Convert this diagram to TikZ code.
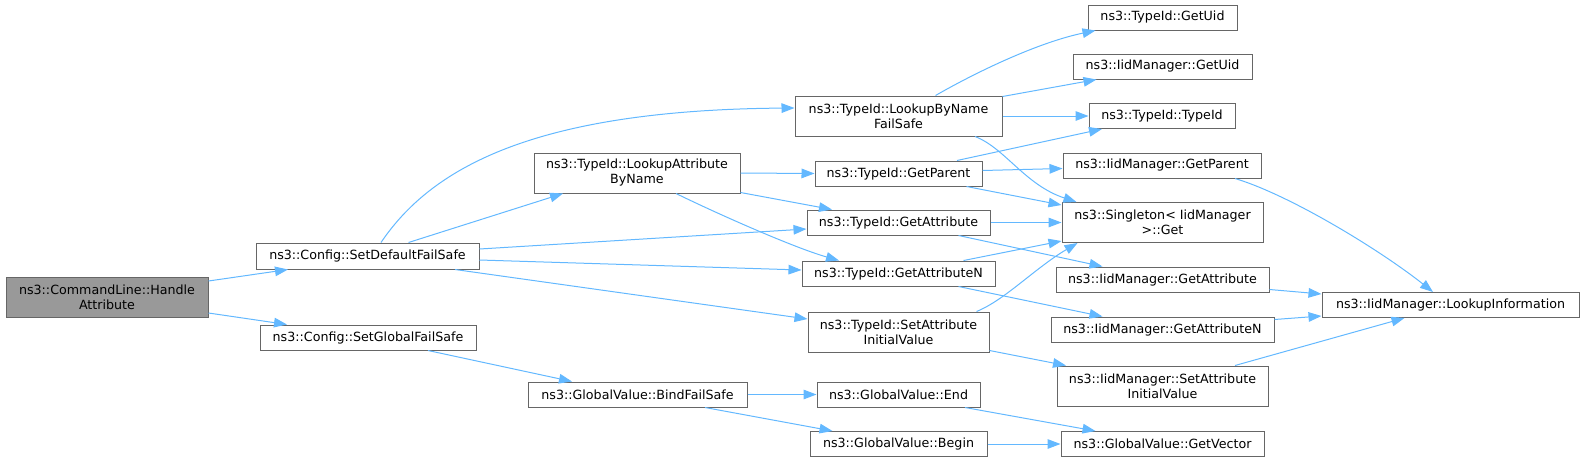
\documentclass[tikz,border=0pt]{standalone}
\usepackage{fontspec}
\setmainfont{DejaVu Sans}
\usetikzlibrary{arrows.meta,calc}
\definecolor{edgeblue}{HTML}{63B8FF}
\definecolor{boxline}{HTML}{666666}
\definecolor{boxgray}{HTML}{999999}
\tikzset{
  fn/.style={draw=boxline, fill=white, line width=0.75pt, inner sep=0pt, align=center,
    font=\fontsize{9.5}{11.25}\selectfont},
  cur/.style={fn, fill=boxgray},
  wh/.style 2 args={minimum width=#1*0.75pt, minimum height=#2*0.75pt},
  edge/.style={draw=edgeblue, line width=0.75pt,
    -{Triangle[length=9.75pt, width=7.2pt, fill=edgeblue]}}
}
\begin{document}
\begin{tikzpicture}[x=0.75pt,y=-0.75pt]
\useasboundingbox (0,0) rectangle (1584,461);
% column 1
\node[cur, wh={202}{40}] (ha) at (107,297) {ns3::CommandLine::Handle\\Attribute};
% column 2
\node[fn, wh={223}{26}] (sdf) at (367.5,256) {ns3::Config::SetDefaultFailSafe};
\node[fn, wh={216}{25}] (sgf) at (368,337.5) {ns3::Config::SetGlobalFailSafe};
% column 3
\node[fn, wh={206}{40}] (labn) at (637,173) {ns3::TypeId::LookupAttribute\\ByName};
\node[fn, wh={219}{25}] (bfs) at (637.5,394.5) {ns3::GlobalValue::BindFailSafe};
% column 4
\node[fn, wh={207}{40}] (lbn) at (898.5,116) {ns3::TypeId::LookupByName\\FailSafe};
\node[fn, wh={167}{25}] (tgp) at (898.5,173.5) {ns3::TypeId::GetParent};
\node[fn, wh={183}{25}] (tga) at (898.5,222.5) {ns3::TypeId::GetAttribute};
\node[fn, wh={193}{25}] (tgan) at (898.5,273.5) {ns3::TypeId::GetAttributeN};
\node[fn, wh={181}{40}] (tsaiv) at (898.5,332) {ns3::TypeId::SetAttribute\\InitialValue};
\node[fn, wh={163}{25}] (gve) at (898.5,394.5) {ns3::GlobalValue::End};
\node[fn, wh={177}{25}] (gvb) at (898.5,444) {ns3::GlobalValue::Begin};
% column 5
\node[fn, wh={149}{25}] (tgu) at (1162.5,17.5) {ns3::TypeId::GetUid};
\node[fn, wh={179}{25}] (igu) at (1162.5,66.5) {ns3::IidManager::GetUid};
\node[fn, wh={146}{25}] (tti) at (1162,116) {ns3::TypeId::TypeId};
\node[fn, wh={198}{25}] (igp) at (1162,165.5) {ns3::IidManager::GetParent};
\node[fn, wh={201}{40}] (sing) at (1162.5,222.5) {ns3::Singleton< IidManager\\ >::Get};
\node[fn, wh={213}{25}] (iga) at (1162.5,279.5) {ns3::IidManager::GetAttribute};
\node[fn, wh={223}{25}] (igan) at (1162.5,329.5) {ns3::IidManager::GetAttributeN};
\node[fn, wh={211}{40}] (isaiv) at (1162.5,386) {ns3::IidManager::SetAttribute\\InitialValue};
\node[fn, wh={203}{25}] (gvv) at (1162.5,444) {ns3::GlobalValue::GetVector};
% column 6
\node[fn, wh={257}{25}] (li) at (1450.5,305) {ns3::IidManager::LookupInformation};

% edges
\draw[edge] ($(ha.east)+(0,-16)$) -- ($(sdf.south)+(-79.5,0)$);
\draw[edge] ($(ha.east)+(0,16)$) -- ($(sgf.north)+(-81,0)$);
\draw[edge] ($(sdf.north)+(13.5,0)$) .. controls (430,170) and (530,110) .. ($(lbn.west)+(0,-8)$);
\draw[edge] ($(sdf.north)+(41,0)$) -- ($(labn.south)+(-74,0)$);
\draw[edge] ($(sdf.east)+(0,-7)$) -- ($(tga.west)+(0,6.5)$);
\draw[edge] ($(sdf.east)+(0,4)$) -- ($(tgan.west)+(0,-3.5)$);
\draw[edge] ($(sdf.south)+(87.5,0)$) -- ($(tsaiv.west)+(0,-13)$);
\draw[edge] ($(sgf.south)+(60,0)$) -- ($(bfs.north)+(-65.5,0)$);
\draw[edge] (labn.east) -- (tgp.west);
\draw[edge] ($(labn.east)+(0,19.5)$) -- ($(tga.north)+(-66.5,0)$);
\draw[edge] ($(labn.south)+(39,0)$) .. controls (720,215) and (795,248) .. ($(tgan.north)+(-59.5,0)$);
\draw[edge] ($(lbn.north)+(37,0)$) .. controls (980,70) and (1040,42) .. ($(tgu.south)+(-67,0)$);
\draw[edge] ($(lbn.east)+(0,-19.5)$) -- ($(igu.south)+(-66,0)$);
\draw[edge] (lbn.east) -- (tti.west);
\draw[edge] ($(lbn.south)+(76.5,0)$) .. controls (1005,148) and (1025,185) .. ($(sing.north)+(-86,0)$);
\draw[edge] ($(tgp.north)+(58.5,0)$) -- ($(tti.south)+(-60,0)$);
\draw[edge] ($(tgp.east)+(0,-3)$) -- ($(igp.west)+(0,3)$);
\draw[edge] ($(tgp.south)+(68,0)$) -- ($(sing.west)+(0,-17.5)$);
\draw[edge] (tga.east) -- (sing.west);
\draw[edge] ($(tga.south)+(60,0)$) -- ($(iga.north)+(-60,0)$);
\draw[edge] ($(tgan.north)+(65,0)$) -- ($(sing.west)+(0,18.5)$);
\draw[edge] ($(tgan.south)+(60,0)$) -- ($(igan.north)+(-60,0)$);
\draw[edge] ($(tsaiv.north)+(78,0)$) .. controls (1005,300) and (1035,268) .. ($(sing.south)+(-85,0)$);
\draw[edge] ($(tsaiv.east)+(0,18.5)$) -- ($(isaiv.north)+(-96.5,0)$);
\draw[edge] ($(igp.south)+(73,0)$) .. controls (1290,195) and (1380,250) .. ($(li.north)+(-17.5,0)$);
\draw[edge] ($(iga.east)+(0,10)$) -- ($(li.west)+(0,-11)$);
\draw[edge] ($(igan.east)+(0,-10)$) -- ($(li.west)+(0,11)$);
\draw[edge] ($(isaiv.north)+(72.5,0)$) -- ($(li.south)+(-46,0)$);
\draw[edge] (bfs.east) -- (gve.west);
\draw[edge] ($(bfs.south)+(67.5,0)$) -- ($(gvb.north)+(-66,0)$);
\draw[edge] ($(gve.south)+(66.5,0)$) -- ($(gvv.north)+(-67,0)$);
\draw[edge] (gvb.east) -- (gvv.west);
\end{tikzpicture}
\end{document}
